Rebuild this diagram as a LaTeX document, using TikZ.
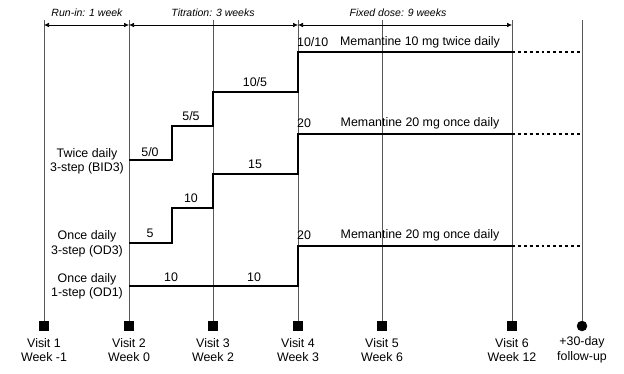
\documentclass[tikz,border=0pt]{standalone}
\usepackage{fontspec}
\setmainfont{Liberation Sans}
\usetikzlibrary{arrows.meta,positioning}
\begin{document}
\begin{tikzpicture}[
	x=1pt, y=-1pt,
	visit/.style={draw, fill, minimum size=9pt, inner sep=0pt},
	followup/.style={circle, draw, fill, minimum size=10pt, inner sep=0pt},
	timeline/.style={draw=black!65, line width=0.6pt},
	dose/.style={line width=2.9pt, line join=miter},
	extended/.style={line width=2.9pt, dash pattern=on 2.9pt off 3pt},
	span/.style={{Latex[length=5pt,width=4.5pt]}-{Latex[length=5pt,width=4.5pt]}, line width=0.6pt},
	caption/.style={font=\fontsize{10.5}{12}\selectfont\itshape},
	lbl/.style={font=\fontsize{12.4}{14.5}\selectfont, inner sep=1pt, align=center}
]
\useasboundingbox (0,0) rectangle (624,373);

% visits along the bottom
\node[visit] (V1) at (44,326) {};
\node[visit] (V2) at (129,326) {};
\node[visit] (V3) at (213,326) {};
\node[visit] (V4) at (298,326) {};
\node[visit] (V5) at (382,326) {};
\node[visit] (V6) at (512,326) {};
\node[followup] (VF) at (582,326) {};

\node[lbl] (L1) at (44,350) {Visit 1\\Week -1};
\node[lbl] (L2) at (129,350) {Visit 2\\Week 0};
\node[lbl] (L3) at (213,350) {Visit 3\\Week 2};
\node[lbl] (L4) at (298,350) {Visit 4\\Week 3};
\node[lbl] (L5) at (382,350) {Visit 5\\Week 6};
\node[lbl] (L6) at (512,350) {Visit 6\\Week 12};
\node[lbl] (LF) at (582,350) {+30-day\\follow-up};

% vertical time lines
\coordinate (T1) at (44,20);
\coordinate (T2) at (129,20);
\coordinate (T3) at (213,20);
\coordinate (T4) at (298,20);
\coordinate (T5) at (382,20);
\coordinate (T6) at (512,20);
\coordinate (TF) at (582,20);
\foreach \v in {1,2,3,4,5,6,F}
	\draw[timeline] (T\v) -- (V\v);

% study periods
\coordinate (P1) at (44,25);
\coordinate (P2) at (129,25);
\coordinate (P4) at (298,25);
\coordinate (P6) at (512,25);
\draw[span] (P1) -- (P2);
\draw[span] (P2) -- (P4);
\draw[span] (P4) -- (P6);
\node[caption] at (87,13) {Run-in: 1 week};
\node[caption] at (213,13) {Titration: 3 weeks};
\node[caption] at (398,13) {Fixed dose: 9 weeks};

% BID3 arm
\coordinate (B0) at (129,160);
\coordinate (B1) at (512,52);
\coordinate (B2) at (582,52);
\draw[dose] (B0) -| (172,126) -| (213,92) -| (298,52) -- (B1);
\draw[extended] (B1) -- (B2);
\node[lbl] at (150,152) {5/0};
\node[lbl] at (191,116) {5/5};
\node[lbl] at (255,82) {10/5};
\node[lbl, anchor=west, inner sep=0pt] at (297,42) {10/10};
\node[lbl] at (420,42) {Memantine 10 mg twice daily};
\node[lbl] (BID3) at (87,161.5) {Twice daily\\3-step (BID3)};

% OD3 arm
\coordinate (C0) at (129,243);
\coordinate (C1) at (512,134);
\coordinate (C2) at (582,134);
\draw[dose] (C0) -| (172,208) -| (213,174) -| (298,134) -- (C1);
\draw[extended] (C1) -- (C2);
\node[lbl] at (150,233) {5};
\node[lbl] at (191,198) {10};
\node[lbl] at (255,164) {15};
\node[lbl, anchor=west, inner sep=0pt] at (297,123) {20};
\node[lbl] at (420,123) {Memantine 20 mg once daily};
\node[lbl] (OD3) at (87,244) {Once daily\\3-step (OD3)};

% OD1 arm
\coordinate (D0) at (129,286);
\coordinate (D1) at (512,246);
\coordinate (D2) at (582,246);
\draw[dose] (D0) -| (298,246) -- (D1);
\draw[extended] (D1) -- (D2);
\node[lbl] at (171,277) {10};
\node[lbl] at (254,277) {10};
\node[lbl, anchor=west, inner sep=0pt] at (297,235) {20};
\node[lbl] at (420,235) {Memantine 20 mg once daily};
\node[lbl] (OD1) at (87,286.5) {Once daily\\1-step (OD1)};
\end{tikzpicture}
\end{document}
